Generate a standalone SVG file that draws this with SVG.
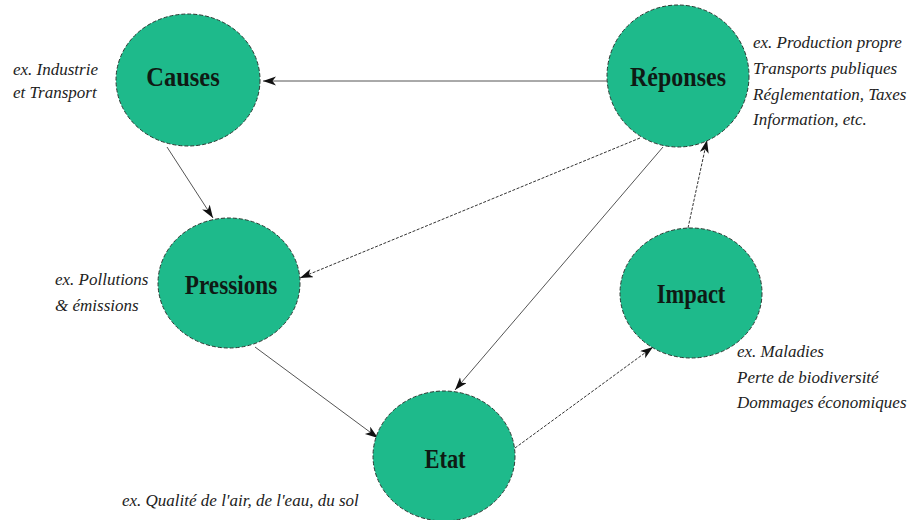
<svg xmlns="http://www.w3.org/2000/svg" width="919" height="520" viewBox="0 0 919 520">
  <style>
    .node { fill: #1eba8b; stroke: #2b3a33; stroke-width: 1; stroke-dasharray: 4 2; }
    .label { font-family: "Liberation Serif", "DejaVu Serif", serif; font-weight: bold; font-size: 25px; fill: #0f1a14; text-anchor: middle; }
    .note { font-family: "Liberation Serif", "DejaVu Serif", serif; font-style: italic; font-size: 17px; fill: #222; }
    .link { fill: none; stroke: #555; stroke-width: 1; }
    .link.dash { stroke: #333; stroke-dasharray: 3 1.5; }
  </style>
  <defs>
    <marker id="arrow" markerUnits="userSpaceOnUse" markerWidth="14" markerHeight="10" refX="13" refY="4.5" orient="auto">
      <path d="M0,0 L13,4.5 L0,9 L3.5,4.5 z" fill="#111"/>
    </marker>
  </defs>
  <rect width="919" height="520" fill="#ffffff"/>

  <!-- connectors -->
  <g id="connectors">
    <line class="link" x1="607" y1="81" x2="263" y2="81" marker-end="url(#arrow)"/>
    <line class="link" x1="167" y1="147" x2="213" y2="218" marker-end="url(#arrow)"/>
    <line class="link dash" x1="640" y1="138" x2="300" y2="278" marker-end="url(#arrow)"/>
    <line class="link" x1="663" y1="147" x2="455" y2="390" marker-end="url(#arrow)"/>
    <line class="link" x1="255" y1="347" x2="378" y2="438" marker-end="url(#arrow)"/>
    <line class="link dash" x1="515" y1="448" x2="653" y2="347" marker-end="url(#arrow)"/>
    <line class="link dash" x1="688" y1="228" x2="707" y2="140" marker-end="url(#arrow)"/>
  </g>

  <g id="causes">
    <ellipse class="node" cx="188" cy="80" rx="72" ry="66"/>
    <text class="label" transform="translate(183,86) scale(0.98,1.1)">Causes</text>
    <text class="note" x="13" y="75">ex. Industrie</text>
    <text class="note" x="13" y="98">et Transport</text>
  </g>

  <g id="reponses">
    <ellipse class="node" cx="678" cy="76" rx="71" ry="71"/>
    <text class="label" transform="translate(678,86) scale(0.96,1.1)">Réponses</text>
    <text class="note" x="753" y="48">ex. Production propre</text>
    <text class="note" x="753" y="74">Transports publiques</text>
    <text class="note" x="753" y="100">Réglementation, Taxes</text>
    <text class="note" x="753" y="125">Information, etc.</text>
  </g>

  <g id="pressions">
    <ellipse class="node" cx="229" cy="283" rx="71" ry="65"/>
    <text class="label" transform="translate(231,294) scale(0.93,1.1)">Pressions</text>
    <text class="note" x="55" y="285">ex. Pollutions</text>
    <text class="note" x="55" y="311">&amp; émissions</text>
  </g>

  <g id="impact">
    <ellipse class="node" cx="691" cy="293" rx="71" ry="65"/>
    <text class="label" transform="translate(691,303) scale(0.9,1.1)">Impact</text>
    <text class="note" x="737" y="357">ex. Maladies</text>
    <text class="note" x="737" y="383">Perte de biodiversité</text>
    <text class="note" x="737" y="408">Dommages économiques</text>
  </g>

  <g id="etat">
    <ellipse class="node" cx="444" cy="456" rx="71" ry="65"/>
    <text class="label" transform="translate(445,468) scale(0.9,1.1)">Etat</text>
    <text class="note" x="122" y="506">ex. Qualité de l'air, de l'eau, du sol</text>
  </g>
</svg>
